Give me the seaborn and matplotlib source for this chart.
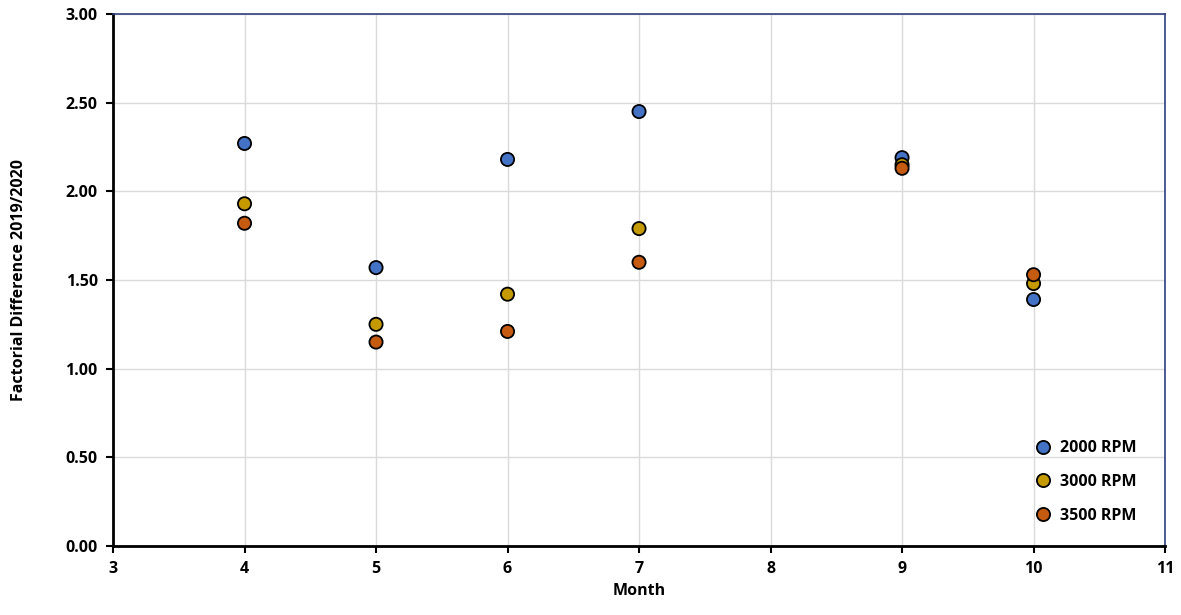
import numpy as np
import pandas as pd
import matplotlib
matplotlib.use("Agg")
import matplotlib.pyplot as plt
import seaborn as sns

# valores
months = [4, 5, 6, 7, 9, 10]
rpm_2000 = [2.27, 1.57, 2.18, 2.45, 2.19, 1.39]
rpm_3000 = [1.93, 1.25, 1.42, 1.79, 2.15, 1.48]
rpm_3500 = [1.82, 1.15, 1.21, 1.60, 2.13, 1.53]
series_names = ["2000 RPM", "3000 RPM", "3500 RPM"]
colors = ["#4472C4", "#C49A00", "#C55A11"]

df = pd.DataFrame({
    "Month": months * 3,
    "Value": rpm_2000 + rpm_3000 + rpm_3500,
    "Series": [s for s in series_names for _ in months],
})

sns.set_style("white")
plt.rcParams["font.family"] = ["Open Sans", "DejaVu Sans"]
plt.rcParams["font.weight"] = "bold"
plt.rcParams["text.color"] = "black"
plt.rcParams["axes.labelcolor"] = "black"
plt.rcParams["xtick.color"] = "black"
plt.rcParams["ytick.color"] = "black"

fig = plt.figure(figsize=(11.81, 6.15), dpi=100)
ax = fig.add_axes([0.0957, 0.1122, 0.8908, 0.865])

sns.scatterplot(data=df, x="Month", y="Value", hue="Series", palette=colors,
                s=90, edgecolor="black", linewidth=1.3, ax=ax, zorder=3)

ax.set_xlim(3, 11)
ax.set_ylim(0, 3)
ax.set_xticks(range(3, 12))
ax.set_yticks(np.arange(0, 3.01, 0.5))
ax.set_yticklabels([f"{v:.2f}" for v in np.arange(0, 3.01, 0.5)])
ax.grid(True, color="#DADADA", linewidth=1)
ax.set_axisbelow(True)

for side in ["left", "bottom"]:
    ax.spines[side].set_color("black")
    ax.spines[side].set_linewidth(2)
for side in ["top", "right"]:
    ax.spines[side].set_color("#2F3F7F")
    ax.spines[side].set_linewidth(1.2)

ax.tick_params(axis="both", direction="out", length=5, width=1.5, labelsize=11.5,
               color="black", bottom=True, left=True, pad=6)
for lab in ax.get_xticklabels() + ax.get_yticklabels():
    lab.set_fontweight("bold")

ax.set_xlabel("Month", fontsize=11.5, fontweight="bold", labelpad=4)
ax.set_ylabel("Factorial Difference 2019/2020", fontsize=11.5, fontweight="bold", labelpad=28)

leg = ax.legend(loc="lower right", bbox_to_anchor=(0.994, 0), frameon=False,
                fontsize=11.5, title=None, handletextpad=0.05,
                labelspacing=1.1, borderaxespad=1.0)
for t in leg.get_texts():
    t.set_fontweight("bold")

fig.savefig("out.png", dpi=100)
